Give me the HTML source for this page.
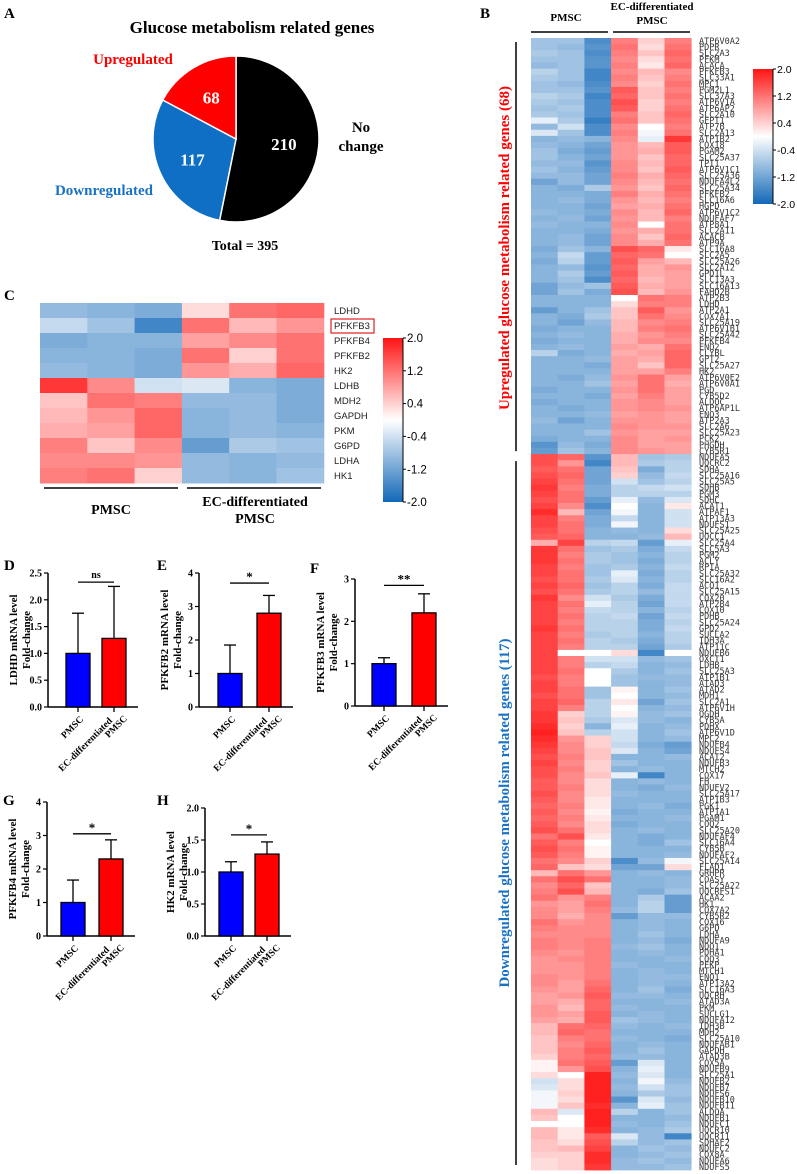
<!DOCTYPE html>
<html><head><meta charset="utf-8"><style>
html,body{margin:0;padding:0;background:#fff;}
svg{display:block;}
.serif{font-family:"Liberation Serif",serif;font-weight:bold;}
.sans{font-family:"Liberation Sans","DejaVu Sans",sans-serif;}
</style></head><body>
<svg id="fig" width="797" height="1174" viewBox="0 0 797 1174" xmlns="http://www.w3.org/2000/svg">
<defs>
<linearGradient id="cbar" x1="0" y1="0" x2="0" y2="1">
<stop offset="0" stop-color="#ff1414"/><stop offset="0.5" stop-color="#ffffff"/><stop offset="1" stop-color="#1268b8"/>
</linearGradient>
</defs>
<g class="serif" font-size="15">
<text x="4" y="18">A</text>
<text x="480" y="18">B</text>
<text x="4" y="300">C</text>
<text x="4" y="570">D</text>
<text x="157" y="570">E</text>
<text x="310" y="573">F</text>
<text x="3" y="805">G</text>
<text x="157" y="805">H</text>
</g>
<text class="serif" x="252" y="33" font-size="17" text-anchor="middle">Glucose metabolism related genes</text>
<g id="pie"></g>
<text class="serif" x="133" y="64" font-size="15" fill="#ff0000" text-anchor="middle">Upregulated</text>
<text class="serif" x="104" y="195" font-size="15" fill="#1a72c4" text-anchor="middle">Downregulated</text>
<text class="serif" x="361" y="132" font-size="15" text-anchor="middle">No</text>
<text class="serif" x="361" y="151" font-size="15" text-anchor="middle">change</text>
<text class="serif" x="245" y="250" font-size="14" text-anchor="middle">Total = 395</text>
<g id="heatC"></g>
<g id="heatB"></g>
<g id="bars"></g>
</svg>
<script>
const NS='http://www.w3.org/2000/svg';
function mk(tag,attrs,parent,txt){const e=document.createElementNS(NS,tag);for(const k in attrs)e.setAttribute(k,attrs[k]);if(txt!==undefined)e.textContent=txt;parent.appendChild(e);return e;}

// ---------- Pie data ----------
const pieCategories=['No change','Downregulated','Upregulated'];
const pieValues=[210,117,68];
const pieColors=['#000000','#0f6fc4','#ff0000'];

// ---------- Heatmap C data ----------
const heatCGenes=['LDHD','PFKFB3','PFKFB4','PFKFB2','HK2','LDHB','MDH2','GAPDH','PKM','G6PD','LDHA','HK1'];
const heatCValues=[
[-0.9,-1.0,-1.1,0.3,1.2,1.3],
[-0.5,-0.8,-1.6,1.2,0.6,0.9],
[-1.1,-1.0,-1.0,0.8,1.0,1.2],
[-1.0,-1.0,-1.1,1.2,0.4,1.2],
[-0.9,-1.0,-1.1,0.9,0.7,1.3],
[1.7,1.0,-0.4,-0.3,-1.0,-1.1],
[0.5,1.2,1.1,-0.9,-0.9,-1.1],
[0.6,0.9,1.3,-1.0,-0.9,-1.1],
[0.7,0.8,1.3,-1.0,-0.9,-1.0],
[1.1,0.5,1.0,-1.3,-0.7,-0.8],
[1.0,1.0,0.9,-0.9,-1.0,-0.9],
[1.1,1.2,0.4,-0.9,-1.0,-0.8]];
const colorbarTicks=[2.0,1.2,0.4,-0.4,-1.2,-2.0];

// ---------- Heatmap B data ----------
const upGenes=['ATP6V0A2','PDPR','SLC2A3','PFKM','ACACA','PFKFB3','SLC33A1','MPC1','PGM2L1','SLC37A3','ATP6V1A','ATP6AP2','SLC2A10','GFPT1','ATP7B','SLC2A13','ATP1B2','COX18','PGAM2','SLC25A37','TPI1','ATP6V1C1','SLC25A36','NDUFA4L2','SLC25A34','PFKFB2','SLC16A6','HGPD','ATP6V1C2','NDUFAF7','ATP8A1','SLC2A11','ACACB','ATP9A','SLC16A8','SLC2A5','SLC25A26','SLC2A12','GPD1L','SLC13A3','SLC16A13','FAHD2B','ATP2B3','LDHD','ATP2A1','COX7A1','SLC25A19','ATP6V1B1','SLC25A42','PFKFB4','ENO2','CLYBL','GPT2','SLC25A27','HK2','ATP6V0E2','ATP6V0A1','PGD','CYB5D2','ALDOC','ATP6AP1L','ENO3','ATP2A3','SLC2A6','SLC25A23','PCK2','PHGDH','CYB5R1'];
const downGenes=['NDUFA5','UQCRC2','SDHA','SLC25A16','SLC25A5','SDHB','PGM3','SDHC','ACAT1','ATPAF1','ATP13A3','NDUFS1','SLC25A25','UQCC1','SLC25A4','SLC5A3','PGM2','ACLY','RPIA','SLC25A32','SLC16A2','ACO1','SLC25A15','COX20','ATP2B4','COX10','PDHB','SLC25A24','GPD2','SUCLA2','IDH3A','ATP11C','NDUFB6','OXCT1','LDHB','SLC25A3','ATP1B1','ATAD3','ATAD2','MDH1','SLC2A1','ATP6V1H','OGDH','CYB5A','PDHX','ATP6V1D','MPC2','NDUFB4','NDUFS4','ACAT2','NDUFB3','MTCH2','COX17','FH','NDUFV2','SLC25A17','ATP1B3','PGK1','ATP1A1','PGAM1','COQ2','SLC25A20','NDUFAF4','SLC16A4','CYB5B','NDUFAF2','SLC25A14','FLAD1','GRHPR','COASY','SLC25A22','UQCRFS1','ACAA2','HK1','COX7A2','CYB5R2','COX16','G6PD','LDHA','NDUFA9','NQO1','PDHA1','COQ3','PFKP','MTCH1','ENO1','ATP13A2','SLC16A3','UQCRH','ATAD3A','PKM','SUCLG1','NDUFA12','IDH3B','MDH2','SLC25A10','NDUFAB1','GAPDH','ATAD3B','COX5A','NDUFB9','SLC25A1','NDUFB2','NDUFB7','NDUFS6','NDUFB10','NDUFB11','ALDOA','NDUFB1','NDUFC1','UQCR10','UQCR11','SDHAF2','NDUFC2','COX8A','NDUFA6','NDUFS5'];
const upValues=[
[-0.8,-0.8,-1.5,1.1,0.4,1.1],[-0.8,-0.9,-1.4,1.2,0.3,1.2],[-0.7,-0.8,-1.5,1.1,0.5,1.3],[-0.8,-0.8,-1.4,1.0,0.3,1.2],
[-0.9,-0.8,-1.4,1.1,0.2,1.3],[-0.6,-0.8,-1.6,1.0,0.6,1.0],[-0.7,-0.8,-1.6,1.1,0.5,1.1],[-0.8,-0.9,-1.5,1.0,0.4,1.2],
[-0.8,-0.8,-1.4,1.4,0.5,1.1],[-0.6,-0.7,-1.6,1.3,0.5,1.2],[-0.7,-0.8,-1.5,1.5,0.4,1.1],[-0.8,-0.7,-1.5,1.4,0.4,1.2],
[-0.7,-0.8,-1.5,1.1,0.5,1.3],[-0.2,-0.7,-1.7,1.2,0.5,1.2],[-0.9,-0.4,-1.5,1.0,0.0,1.1],[-0.3,-0.8,-1.5,1.1,-0.1,1.2],
[-1.0,-0.9,-1.0,1.0,-0.2,1.7],[-0.9,-1.0,-1.2,0.9,0.6,1.4],[-0.8,-1.1,-1.3,0.9,0.7,1.4],[-0.8,-1.0,-1.2,0.9,0.5,1.3],
[-0.9,-0.9,-1.4,1.0,0.6,1.3],[-0.8,-1.0,-1.3,1.0,0.5,1.4],[-0.9,-0.9,-1.2,1.1,0.7,1.3],[-1.2,-0.9,-1.2,1.0,0.6,1.2],
[-1.0,-1.1,-0.7,0.9,0.5,1.3],[-1.0,-1.0,-1.1,1.1,0.7,1.2],[-1.0,-0.9,-1.1,0.9,0.6,1.1],[-1.0,-1.0,-1.2,0.8,0.7,1.2],
[-0.9,-1.0,-1.1,1.0,0.6,1.3],[-1.0,-0.9,-1.2,0.9,0.6,1.1],[-0.9,-1.0,-1.0,1.0,0.0,1.2],[-1.0,-1.0,-1.1,0.9,0.7,1.2],
[-1.0,-0.9,-1.2,1.0,0.5,1.3],[-1.0,-0.9,-1.2,1.0,0.7,1.2],[-1.1,-0.8,-1.0,1.5,1.3,0.2],[-1.0,-0.5,-1.3,1.3,1.2,0.0],
[-1.1,-0.6,-1.3,1.4,0.8,0.6],[-1.0,-0.9,-1.4,1.3,0.7,0.9],[-1.0,-0.7,-1.3,1.4,0.7,0.8],[-1.0,-0.8,-1.5,1.3,0.6,0.8],
[-1.2,-0.9,-0.8,1.4,0.7,0.8],[-1.2,-0.8,-1.1,1.5,0.6,0.9],[-1.0,-1.0,-1.0,0.0,1.2,1.1],[-1.0,-1.0,-1.0,0.3,1.1,1.1],
[-1.3,-1.0,-0.8,0.5,1.4,0.9],[-1.0,-1.1,-0.7,0.5,1.2,1.0],[-1.0,-1.2,-0.9,0.6,1.0,1.1],[-1.1,-1.0,-1.0,0.6,1.1,1.2],
[-1.0,-0.9,-1.0,0.7,0.9,1.1],[-1.1,-1.0,-1.0,0.7,1.0,1.0],[-1.0,-0.9,-1.0,0.8,0.7,1.2],[-0.6,-1.1,-1.0,0.7,0.8,1.3],
[-1.0,-1.0,-0.9,0.8,0.7,1.3],[-1.0,-1.0,-1.1,0.8,0.5,1.3],[-1.0,-1.0,-1.0,0.8,0.8,1.1],[-1.0,-1.1,-0.9,0.9,1.2,0.8],
[-1.0,-1.0,-0.8,0.8,1.2,0.7],[-1.1,-1.0,-1.0,0.9,1.2,0.8],[-1.0,-1.0,-1.1,0.8,1.1,0.8],[-1.1,-1.0,-1.0,0.9,1.0,0.8],
[-1.0,-1.1,-1.0,0.9,1.0,0.9],[-1.0,-1.0,-0.9,0.8,0.9,0.8],[-0.9,-1.2,-1.0,0.9,0.9,0.8],[-1.0,-1.0,-1.0,1.0,0.9,0.9],
[-1.0,-1.0,-0.8,0.9,0.8,0.8],[-1.1,-1.0,-1.0,1.0,0.8,0.9],[-1.4,-0.9,-1.1,1.0,0.8,0.8],[-1.3,-0.8,-1.0,1.0,0.9,0.8]];
const downValues=[
[1.5,1.3,-1.4,0.6,-0.8,-0.7],[1.5,0.9,-1.6,0.6,-0.7,-0.6],[1.4,1.2,-1.2,0.5,-1.1,-0.6],[1.5,1.3,-1.2,0.4,-0.9,-0.5],
[1.6,1.2,-1.2,-0.4,-0.8,-0.6],[1.7,1.1,-1.1,-0.6,-0.5,-0.4],[1.6,1.2,-1.1,-0.6,-0.6,-0.6],[1.5,1.2,-1.3,-0.2,-0.9,-0.3],
[1.6,1.0,-1.5,0.0,-1.0,0.2],[1.8,0.6,-1.2,-0.1,-1.0,-0.4],[1.6,1.1,-1.1,-0.5,-1.0,-0.4],[1.6,1.2,-1.1,-0.1,-1.0,-0.4],
[1.5,1.2,-1.0,-0.9,-1.0,0.3],[1.4,1.3,-1.0,-1.0,-0.9,0.6],[0.7,1.6,-0.6,-0.5,-1.3,-0.2],[1.7,1.2,-0.8,-0.7,-1.1,-0.5],
[1.7,1.1,-0.7,-0.8,-1.0,-0.6],[1.7,1.2,-0.7,-0.8,-1.1,-0.6],[1.6,1.1,-0.8,-0.7,-1.0,-0.5],[1.6,1.2,-0.8,-0.2,-1.1,-0.6],
[1.5,1.2,-0.7,-0.3,-1.0,-0.6],[1.6,1.3,-0.8,-0.6,-1.1,-0.5],[1.5,1.2,-0.7,-0.6,-0.9,-0.5],[1.7,1.0,-0.4,-0.7,-1.1,-0.5],
[1.6,1.2,-0.2,-0.6,-1.2,-0.5],[1.6,1.1,-0.5,-0.6,-1.0,-0.6],[1.6,1.2,-0.6,-0.5,-1.2,-0.5],[1.6,1.1,-0.6,-0.6,-1.1,-0.6],
[1.7,1.2,-0.6,-0.6,-1.1,-0.5],[1.6,1.1,-0.7,-0.6,-1.0,-0.6],[1.6,1.2,-0.6,-0.7,-1.1,-0.6],[1.6,1.1,-0.6,-0.6,-1.2,-0.7],
[1.6,0.0,0.0,0.3,-1.6,0.0],[1.6,1.1,-0.4,-0.4,-0.9,-0.8],[1.6,1.1,-0.6,-0.5,-1.0,-0.9],[1.6,1.2,0.0,-0.7,-1.0,-0.8],
[1.5,1.1,0.0,-0.8,-0.9,-0.9],[1.6,1.1,0.0,-0.8,-1.0,-0.9],[1.6,1.2,-0.8,0.1,-1.0,-0.8],[1.5,1.2,-0.8,0.0,-1.0,-0.9],
[1.6,1.3,-0.6,0.2,-1.2,-0.8],[1.6,1.1,-0.6,0.0,-1.0,-0.9],[1.7,0.4,-0.6,0.1,-0.9,-0.8],[1.7,0.5,-0.7,-0.3,-0.9,-1.0],
[1.8,0.4,-1.0,-0.2,-1.0,-0.9],[1.9,0.5,-0.6,-0.4,-1.0,-0.8],[1.8,0.9,0.4,-0.4,-1.0,-0.9],[1.7,1.0,0.4,-0.5,-1.1,-1.3],
[1.6,1.0,0.5,-0.3,-1.0,-1.2],[1.5,1.1,0.5,-1.0,-1.0,-0.9],[1.6,1.0,0.4,-0.8,-1.0,-1.0],[1.5,1.1,0.4,-1.0,-0.9,-1.0],
[1.5,1.0,0.5,-0.2,-1.6,-1.0],[1.4,1.0,0.3,-1.0,-0.9,-1.0],[1.4,1.1,0.3,-1.0,-1.1,-0.9],[1.5,1.0,0.3,-0.9,-1.0,-1.0],
[1.4,1.0,0.2,-1.0,-1.0,-1.0],[1.3,1.1,0.2,-1.0,-0.9,-1.1],[1.4,1.0,0.1,-1.1,-1.0,-1.0],[1.3,1.1,0.2,-1.0,-1.0,-0.9],
[1.4,1.0,0.3,-1.1,-1.0,-1.0],[1.5,1.2,0.3,-1.0,-0.9,-1.0],[1.2,1.5,0.2,-1.0,-1.1,-1.0],[1.4,1.1,0.0,-1.0,-1.1,-0.8],
[1.5,1.2,0.1,-1.0,-1.0,-1.0],[1.4,1.1,0.1,-1.0,-1.0,-0.9],[1.2,1.0,0.4,-1.5,-0.9,-0.1],[1.3,0.5,0.3,-1.2,-1.2,0.3],
[0.6,1.2,0.9,-1.0,-0.9,-1.0],[1.2,1.5,1.2,-1.0,-1.0,-0.9],
[1.0,1.3,0.5,-1.0,-1.0,-0.9],[1.1,1.5,0.6,-1.0,-1.1,-0.8],[1.2,0.9,1.1,-1.0,-0.7,-1.3],[0.9,0.8,1.2,-1.0,-0.6,-1.3],
[1.0,0.8,1.1,-0.9,-0.6,-1.3],[1.0,0.7,1.0,-1.3,-0.9,-0.9],[1.2,0.9,1.0,-1.0,-0.9,-1.0],[1.1,1.0,1.0,-1.0,-0.9,-1.0],
[1.0,1.0,1.0,-1.0,-0.8,-1.0],[1.1,1.0,1.1,-1.0,-0.9,-1.1],[1.1,1.0,1.1,-0.9,-0.8,-1.0],[1.0,0.9,1.1,-1.0,-0.9,-1.0],
[0.9,1.0,1.1,-1.0,-1.0,-0.9],[0.9,0.9,1.1,-0.9,-1.0,-1.0],[0.9,0.9,1.1,-1.0,-0.9,-1.0],[1.0,0.9,1.1,-1.0,-0.9,-0.9],
[1.0,0.8,1.2,-1.0,-0.9,-1.0],[0.9,0.8,1.3,-1.0,-0.8,-1.1],[0.8,0.9,1.4,-0.9,-0.9,-1.0],[0.8,0.7,1.3,-1.0,-1.0,-0.9],
[0.9,0.6,1.3,-0.9,-1.0,-1.0],[0.9,0.8,1.4,-1.0,-0.9,-1.0],[0.8,0.7,1.4,-0.8,-0.9,-1.0],[0.6,1.2,1.3,-0.9,-1.0,-0.9],
[0.6,1.3,1.2,-1.0,-1.0,-1.0],[0.5,1.1,1.2,-0.9,-1.0,-1.1],[0.5,1.0,1.3,-1.0,-0.9,-1.0],[0.5,1.1,1.4,-1.0,-0.8,-1.0],
[0.4,1.1,1.3,-0.9,-0.9,-1.0],[0.1,1.2,1.4,-1.3,-0.3,-1.0],[0.1,0.9,1.5,-1.0,-0.2,-1.0],[0.3,0.0,1.9,-0.9,-0.3,-1.0],
[-0.4,0.3,1.9,-1.0,-0.1,-0.9],[-0.3,0.3,1.9,-0.9,-0.4,-0.8],[-0.1,0.4,1.9,-1.0,-0.7,-0.8],[-0.1,0.3,1.9,-1.4,-0.3,-0.9],
[-0.1,0.5,1.8,-1.0,-0.2,-0.8],[0.6,-0.3,1.9,-0.6,-1.0,-0.8],[0.5,0.0,1.9,-1.0,-1.0,-0.9],[0.0,0.0,1.9,-0.9,-1.0,-0.8],
[0.6,0.2,1.8,-1.0,-0.9,-0.7],[0.6,0.2,1.4,-0.3,-0.9,-1.6],[0.5,0.3,1.5,-0.6,-0.9,-0.8],[0.5,0.6,1.6,-1.0,-0.8,-0.9],
[0.4,0.4,1.8,-1.0,-0.9,-0.8],[0.3,0.4,1.8,-0.9,-0.8,-0.9],[0.3,0.4,1.7,-0.9,-0.9,-0.8]];

// ---------- Bar chart data ----------
const barGenes=['LDHD','PFKFB2','PFKFB3','PFKFB4','HK2'];
const barGroups=['PMSC','EC-differentiated PMSC'];
const pmscMeans=[1.0,1.0,1.0,1.0,1.0];
const pmscErrors=[0.75,0.85,0.14,0.67,0.16];
const ecMeans=[1.28,2.8,2.2,2.3,1.28];
const ecErrors=[0.97,0.53,0.45,0.57,0.19];
const yMaxes=[2.5,4,3,4,2.0];
const yTickSteps=[0.5,1,1,1,0.5];
const sigLabels=['ns','*','**','*','*'];
const sigHeights=[2.33,3.7,2.85,3.05,1.58];

function heatColor(v){
  const t=Math.max(-2,Math.min(2,v))/2;
  let r,g,b;
  if(t>=0){r=255;g=Math.round(255-(255-20)*t);b=Math.round(255-(255-20)*t);}
  else{const s=-t;r=Math.round(255-(255-18)*s);g=Math.round(255-(255-104)*s);b=Math.round(255-(255-184)*s);}
  return 'rgb('+r+','+g+','+b+')';
}

// ---------- Pie ----------
(function(){
  const g=document.getElementById('pie');
  const cx=236,cy=139,r=83;
  const total=pieValues.reduce((a,b)=>a+b,0);
  let a0=-Math.PI/2;
  pieValues.forEach((v,i)=>{
    const a1=a0+v/total*2*Math.PI;
    const large=(a1-a0)>Math.PI?1:0;
    const p=mk('path',{d:`M${cx},${cy} L${cx+r*Math.cos(a0)},${cy+r*Math.sin(a0)} A${r},${r} 0 ${large} 1 ${cx+r*Math.cos(a1)},${cy+r*Math.sin(a1)} Z`,fill:pieColors[i],stroke:'#fff','stroke-width':1.5},g);
    
    
    const am=(a0+a1)/2, lr=r*0.58;
    const t=mk('text',{x:cx+lr*Math.cos(am),y:cy+lr*Math.sin(am)+6,'text-anchor':'middle','font-size':17,fill:'#fff',class:'serif'},g,String(v));
    
    
    a0=a1;
  });
})();

// ---------- Heatmap C ----------
(function(){
  const g=document.getElementById('heatC');
  const x0=40,y0=303,cw=47.3,rh=15;
  heatCValues.forEach((row,i)=>{
    row.forEach((v,j)=>{
      const c=mk('rect',{x:x0+j*cw,y:y0+i*rh,width:cw+0.5,height:rh+0.5,fill:heatColor(v)},g);
      
      
    });
    const t=mk('text',{x:334,y:y0+i*rh+11,'font-size':9.5,class:'sans',fill:'#222'},g,heatCGenes[i]);
    
    
  });
  const hi=heatCGenes.indexOf('PFKFB3');
  const box=mk('rect',{x:331,y:y0+hi*rh+1,width:43,height:14,fill:'none',stroke:'#e02020','stroke-width':1.2},g);
  
  
  const l1=mk('line',{x1:44,y1:488,x2:178,y2:488,stroke:'#000','stroke-width':1.5},g);
  
  
  const l2=mk('line',{x1:187,y1:488,x2:321,y2:488,stroke:'#000','stroke-width':1.5},g);
  
  
  const g1=mk('text',{x:111,y:514,'text-anchor':'middle','font-size':14,class:'serif'},g,'PMSC');
  
  
  const g2=mk('text',{x:255,y:506,'text-anchor':'middle','font-size':14,class:'serif'},g,'EC-differentiated');
  
  
  const g3=mk('text',{x:255,y:523,'text-anchor':'middle','font-size':14,class:'serif'},g,'PMSC');
  
  
  drawColorbar(g,383,338,20,164,11.5);
})();

function drawColorbar(g,x,y,w,h,fs){
  const r=mk('rect',{x:x,y:y,width:w,height:h,fill:'url(#cbar)'},g);
  
  
  mk('line',{x1:x+w,y1:y,x2:x+w,y2:y+h,stroke:'#000','stroke-width':1},g);
  colorbarTicks.forEach(v=>{
    const yy=y+(2-v)/4*h;
    mk('line',{x1:x+w,y1:yy,x2:x+w+3,y2:yy,stroke:'#000','stroke-width':1},g);
    const t=mk('text',{x:x+w+4,y:yy+fs*0.36,'font-size':fs,class:'sans'},g,v.toFixed(1));
    
    
  });
}

// ---------- Heatmap B ----------
(function(){
  const g=document.getElementById('heatB');
  const genes=upGenes.concat(downGenes);
  const vals=upValues.concat(downValues);
  const x0=531,y0=38,cw=26.7,rh=1132/vals.length;
  vals.forEach((row,i)=>{
    row.forEach((v,j)=>{
      const c=mk('rect',{x:x0+j*cw,y:y0+i*rh,width:cw+0.4,height:rh+0.4,fill:heatColor(v)},g);
      
      
    });
  });
  genes.forEach((n,i)=>{
    const t=mk('text',{x:699,y:y0+i*rh+6,'font-size':8.5,'font-family':'"DejaVu Sans Mono",monospace',fill:'#333'},g,n);
    
    
  });
  const a=mk('line',{x1:531,y1:32,x2:608,y2:32,stroke:'#000','stroke-width':1.5},g);
  
  
  const b=mk('line',{x1:613,y1:32,x2:690,y2:32,stroke:'#000','stroke-width':1.5},g);
  
  
  const t1=mk('text',{x:566,y:21,'text-anchor':'middle','font-size':11,class:'serif'},g,'PMSC');
  
  
  const t2=mk('text',{x:652,y:10,'text-anchor':'middle','font-size':11,class:'serif'},g,'EC-differentiated');
  
  
  const t3=mk('text',{x:652,y:24,'text-anchor':'middle','font-size':11,class:'serif'},g,'PMSC');
  
  
  const splitY=y0+upValues.length*rh;
  const v1=mk('line',{x1:516,y1:42,x2:516,y2:splitY-3,stroke:'#000','stroke-width':1.5},g);
  
  
  const v2=mk('line',{x1:516,y1:splitY+7,x2:516,y2:1165,stroke:'#000','stroke-width':1.5},g);
  
  
  const upMid=(42+splitY)/2, dnMid=(splitY+7+1165)/2;
  const r1=mk('text',{x:0,y:0,transform:`translate(509,${upMid}) rotate(-90)`,'text-anchor':'middle','font-size':15,fill:'#ff0000',class:'serif'},g,'Upregulated glucose metabolism related genes ('+upGenes.length+')');
  
  
  const r2=mk('text',{x:0,y:0,transform:`translate(509,${dnMid}) rotate(-90)`,'text-anchor':'middle','font-size':15,fill:'#1a72c4',class:'serif'},g,'Downregulated glucose metabolism related genes ('+downGenes.length+')');
  
  
  drawColorbar(g,753,69,20,135,10.5);
})();

// ---------- Bar charts ----------
const barLayouts=[
 {ax:48,y0:707,yt:573,bx:66,rx:102},
 {ax:199,y0:707,yt:573,bx:218,rx:257},
 {ax:355,y0:706,yt:579,bx:372,rx:412},
 {ax:47,y0:936,yt:802,bx:61,rx:99},
 {ax:205,y0:936,yt:808,bx:219,rx:255}];
(function(){
  const root=document.getElementById('bars');
  barGenes.forEach((gene,k)=>{
    const L=barLayouts[k];
    const g=mk('g',{},root);
    
    
    const ymax=yMaxes[k], step=yTickSteps[k];
    const Y=v=>L.y0-(v/ymax)*(L.y0-L.yt);
    const bw=24, dec=step<1?1:0;
    const xEnd=L.rx+bw+12;
    mk('line',{x1:L.ax,y1:L.yt,x2:L.ax,y2:L.y0,stroke:'#000','stroke-width':1.5},g);
    mk('line',{x1:L.ax,y1:L.y0,x2:xEnd,y2:L.y0,stroke:'#000','stroke-width':1.5},g);
    for(let v=0;v<=ymax+1e-9;v+=step){
      const yy=Y(v);
      mk('line',{x1:L.ax-4,y1:yy,x2:L.ax,y2:yy,stroke:'#000','stroke-width':1.2},g);
      const t=mk('text',{x:L.ax-6,y:yy+3.5,'text-anchor':'end','font-size':10,class:'serif'},g,v.toFixed(dec));
      
      
    }
    const yt=mk('text',{x:0,y:0,transform:`translate(${L.ax-31},${(L.y0+L.yt)/2}) rotate(-90)`,'text-anchor':'middle','font-size':11,class:'serif'},g,gene+' mRNA level');
    
    
    const yt2=mk('text',{x:0,y:0,transform:`translate(${L.ax-18},${(L.y0+L.yt)/2}) rotate(-90)`,'text-anchor':'middle','font-size':11,class:'serif'},g,'Fold-change');
    
    
    const series=[[pmscMeans[k],pmscErrors[k],L.bx,'#0000ff'],[ecMeans[k],ecErrors[k],L.rx,'#ff0000']];
    series.forEach((s,i)=>{
      const [m,e,x,col]=s, cx=x+bw/2;
      const top=Y(m+e);
      mk('line',{x1:cx,y1:top,x2:cx,y2:Y(m),stroke:'#000','stroke-width':1.3},g);
      mk('line',{x1:cx-6,y1:top,x2:cx+6,y2:top,stroke:'#000','stroke-width':1.3},g);
      const r=mk('rect',{x:x,y:Y(m),width:bw,height:L.y0-Y(m),fill:col,stroke:'#000','stroke-width':1.3},g);
      
      
      mk('line',{x1:cx,y1:L.y0,x2:cx,y2:L.y0+5,stroke:'#000','stroke-width':1.3},g);
      const lg=mk('g',{transform:`translate(${cx+3},${L.y0+10}) rotate(-45)`},g);
      
      
      if(i===0){
        mk('text',{x:0,y:4,'text-anchor':'end','font-size':9.5,class:'serif'},lg,barGroups[0]);
      }else{
        mk('text',{x:-6,y:0,'text-anchor':'end','font-size':9.5,class:'serif'},lg,'EC-differentiated');
        mk('text',{x:6,y:9,'text-anchor':'end','font-size':9.5,class:'serif'},lg,'PMSC');
      }
    });
    const sy=Y(sigHeights[k]);
    mk('line',{x1:L.bx+bw/2,y1:sy,x2:L.rx+bw/2,y2:sy,stroke:'#000','stroke-width':1.3},g);
    const st=mk('text',{x:(L.bx+L.rx)/2+bw/2,y:sy-(sigLabels[k]==='ns'?4:2),'text-anchor':'middle','font-size':sigLabels[k]==='ns'?10:13,class:'serif'},g,sigLabels[k]);
    
    
  });
})();
</script>
</body></html>
